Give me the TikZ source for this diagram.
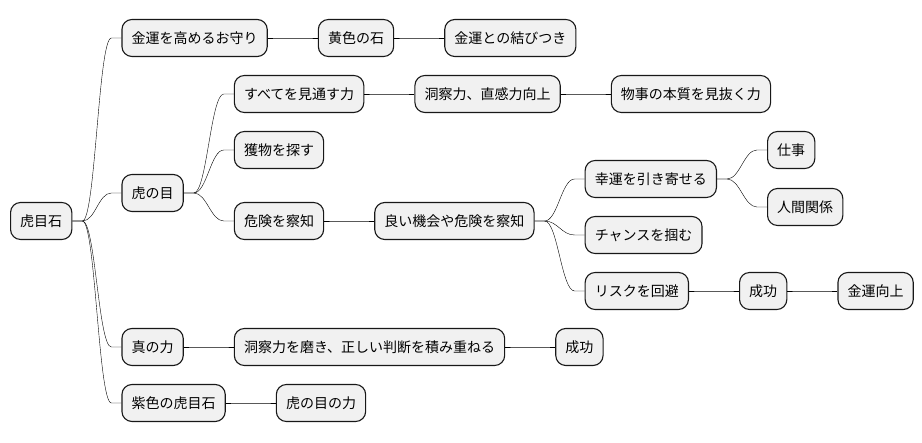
\documentclass[tikz,border=0pt]{standalone}
\usepackage{fontspec}
\newfontfamily\jpfont{Noto Sans CJK JP}
\usepackage{xcolor}
\usetikzlibrary{positioning}
\definecolor{topicfill}{HTML}{F1F1F1}
\definecolor{topicline}{HTML}{181818}

\begin{document}
\begin{tikzpicture}[x=1pt,y=-1pt,node distance=50pt,
	topic/.style={draw=topicline,fill=topicfill,line width=1.1pt,rounded corners=10pt,
		minimum height=37pt,inner xsep=9.65pt,inner ysep=0pt,
		font=\jpfont\fontsize{14}{16}\selectfont,text=black},
	branch/.style={draw=topicline,line width=0.8pt,
		to path={-- ++(10pt,0) .. controls +(13pt,0) and +(-13pt,0) .. ([xshift=-10pt]\tikztotarget) -- (\tikztotarget)}}]
	\useasboundingbox (0,0) rectangle (922,443);
	\node[topic,anchor=west] (root) at (10,221) {虎目石};
	% first level
	\node[topic,right=49pt of root,yshift=183pt] (omamori) {金運を高めるお守り};
	\node[topic,right=49pt of root,yshift=28pt] (me) {虎の目};
	\node[topic,right=49pt of root,yshift=-126pt] (shin) {真の力};
	\node[topic,right=49pt of root,yshift=-182pt] (murasaki) {紫色の虎目石};
	% omamori
	\node[topic] (kiiro) [right=of omamori] {黄色の石};
	\node[topic] (musubi) [right=of kiiro] {金運との結びつき};
	% me
	\node[topic,right=of me,yshift=99pt] (miootosu) {すべてを見通す力};
	\node[topic,right=of me,yshift=43pt] (emono) {獲物を探す};
	\node[topic,right=of me,yshift=-28pt] (kiken) {危険を察知};
	\node[topic] (dosatsu) [right=of miootosu] {洞察力、直感力向上};
	\node[topic] (honshitsu) [right=of dosatsu] {物事の本質を見抜く力};
	\node[topic] (kikai) [right=of kiken] {良い機会や危険を察知};
	\node[topic,right=of kikai,yshift=42pt] (koun) {幸運を引き寄せる};
	\node[topic,right=of kikai,yshift=-14pt] (chance) {チャンスを掴む};
	\node[topic,right=of kikai,yshift=-70pt] (risk) {リスクを回避};
	\node[topic,right=of koun,yshift=29pt] (shigoto) {仕事};
	\node[topic,right=of koun,yshift=-28pt] (ningen) {人間関係};
	\node[topic] (seiko) [right=of risk] {成功};
	\node[topic] (kinun) [right=of seiko] {金運向上};
	% shin, murasaki
	\node[topic] (migaki) [right=of shin] {洞察力を磨き、正しい判断を積み重ねる};
	\node[topic] (seikob) [right=of migaki] {成功};
	\node[topic] (menochikara) [right=of murasaki] {虎の目の力};

	\foreach \from/\to in {root/omamori,root/me,root/shin,root/murasaki,
		omamori/kiiro,kiiro/musubi,me/miootosu,me/emono,me/kiken,
		miootosu/dosatsu,dosatsu/honshitsu,kiken/kikai,kikai/koun,kikai/chance,kikai/risk,
		koun/shigoto,koun/ningen,risk/seiko,seiko/kinun,
		shin/migaki,migaki/seikob,murasaki/menochikara}
		\draw (\from.east) to[branch] (\to.west);
\end{tikzpicture}
\end{document}
